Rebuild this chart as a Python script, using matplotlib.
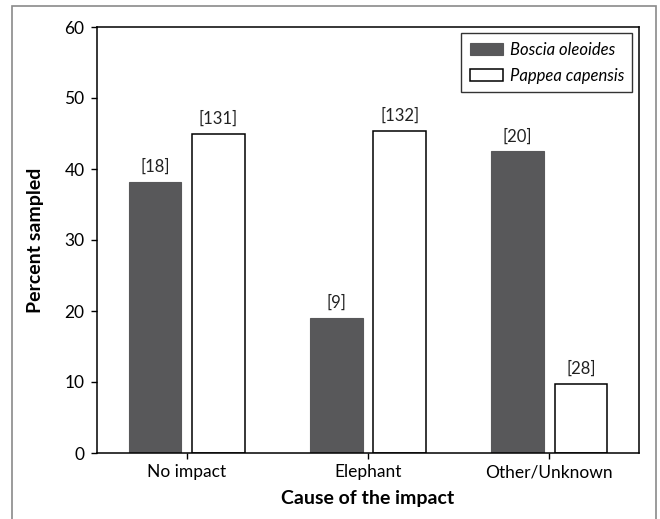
import matplotlib
matplotlib.use("Agg")
import matplotlib.pyplot as plt
from matplotlib.patches import Rectangle
import numpy as np

categories = ["No impact", "Elephant", "Other/Unknown"]
boscia = [38.2, 19.0, 42.5]
pappea = [44.9, 45.4, 9.7]
boscia_n = ["[18]", "[9]", "[20]"]
pappea_n = ["[131]", "[132]", "[28]"]
series_names = ["Boscia oleoides", "Pappea capensis"]

plt.rcParams['font.family'] = ['Lato', 'DejaVu Sans']

fig = plt.figure(figsize=(6.6, 5.19), dpi=100)
ax = fig.add_axes([97/660, 1 - 453/519, (639-97)/660, (453-27)/519])

x = np.arange(len(categories))
w = 0.29
off = 0.175
dark = "#58585a"
ax.bar(x - off, boscia, w, color=dark, edgecolor=dark, linewidth=0.8, label=series_names[0])
ax.bar(x + off, pappea, w, color="white", edgecolor="black", linewidth=1.1, label=series_names[1])

for xi, v, t in zip(x - off, boscia, boscia_n):
    ax.annotate(t, (xi, v), xytext=(0, 5), textcoords="offset points",
                ha="center", va="bottom", fontsize=12, color="#222222")
for xi, v, t in zip(x + off, pappea, pappea_n):
    ax.annotate(t, (xi, v), xytext=(0, 5), textcoords="offset points",
                ha="center", va="bottom", fontsize=12, color="#222222")

ax.set_xlim(-0.495, 2.495)
ax.set_ylim(0, 60)
ax.set_yticks(range(0, 61, 10))
ax.set_xticks(x)
ax.set_xticklabels(categories)
ax.tick_params(axis='both', direction='out', length=4, width=1, labelsize=12.5, colors="black")
ax.tick_params(axis='x', pad=4)
ax.tick_params(axis='y', pad=5)
for s in ax.spines.values():
    s.set_linewidth(1.1)
    s.set_color("black")

ax.set_ylabel("Percent sampled", fontsize=14, fontweight="bold", labelpad=15)
ax.set_xlabel("Cause of the impact", fontsize=14, fontweight="bold", labelpad=7)

leg = ax.legend(loc="upper right", bbox_to_anchor=(0.988, 0.985), frameon=True,
                fancybox=False, edgecolor="black",
                prop={'style': 'italic', 'size': 12}, handlelength=2.0,
                handleheight=0.75, handletextpad=0.4, borderpad=0.5,
                labelspacing=0.6, borderaxespad=0)
leg.get_frame().set_linewidth(1.0)

border = Rectangle((12/660, -0.05), (656-12)/660, 1.05 - 6/519, transform=fig.transFigure,
                   fill=False, edgecolor="#8a8a8a", linewidth=1.2, clip_on=False)
fig.patches.append(border)

fig.savefig("out.png", dpi=100)
